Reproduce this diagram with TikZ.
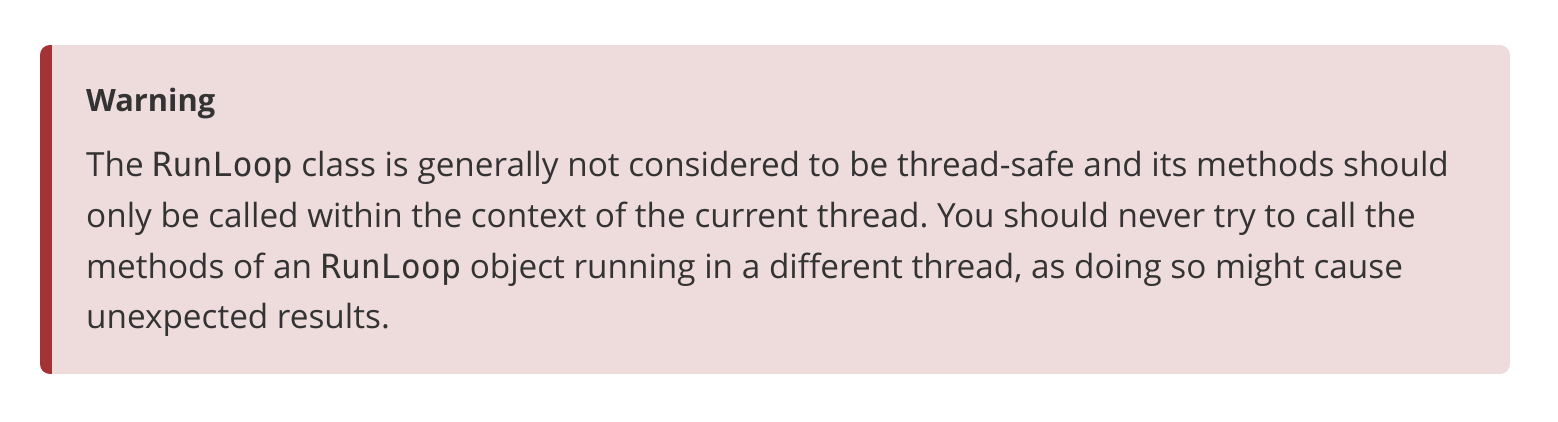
\documentclass[tikz,border=0pt]{standalone}
\usepackage{fontspec}
\setmainfont{Open Sans}
\newfontfamily\codefont{DejaVu Sans Mono}
\usetikzlibrary{positioning}
\definecolor{warnbar}{HTML}{A33336}
\definecolor{warnfill}{HTML}{EEDBDC}
\definecolor{warntext}{HTML}{333333}
\newcommand{\code}[1]{{\codefont #1}}
\frenchspacing
\tikzset{
  bodyline/.style={anchor=base west, inner sep=0pt, text=warntext,
    font=\fontsize{33.3}{40}\selectfont},
  titleline/.style={anchor=base west, inner sep=0pt, text=warntext,
    font=\fontsize{30.8}{36}\selectfont\bfseries}
}
\begin{document}
\begin{tikzpicture}[x=1pt,y=-1pt]
        % Marco
        \useasboundingbox (0,0) rectangle (1558,422);
        \begin{scope}
          \clip[rounded corners=10pt] (40,45) rectangle (1510,374);
          \fill[warnfill] (40,45) rectangle (1510,374);
          \fill[warnbar] (40,45) rectangle (52,374);
        \end{scope}
        % Texto
        \node[titleline] (title) at (86,112) {Warning};
        \node[bodyline] (line1) at (86,177) {The \code{RunLoop} class is generally not considered to be thread-safe and its methods should};
        \node[bodyline] (line2) at (86,227.5) {only be called within the context of the current thread. You should never try to call the};
        \node[bodyline] (line3) at (86,278) {methods of an \code{RunLoop} object running in a different thread, as doing so might cause};
        \node[bodyline] (line4) at (86,328.5) {unexpected results.};
    \end{tikzpicture}
\end{document}
